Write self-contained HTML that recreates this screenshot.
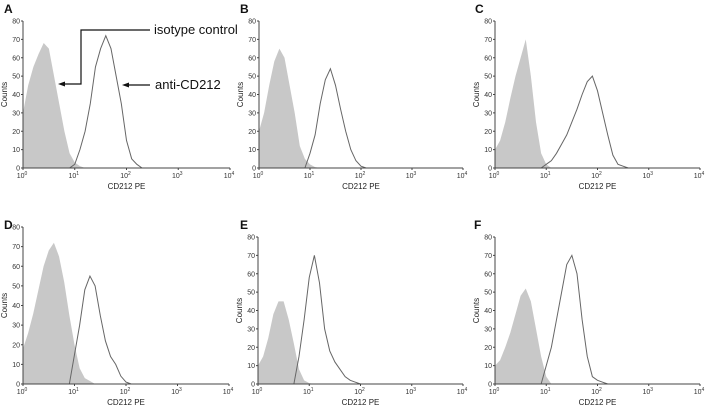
<!DOCTYPE html>
<html><head><meta charset="utf-8"><style>
body{margin:0;background:#fff;}
svg{display:block;font-family:"Liberation Sans",Arial,sans-serif;}
</style></head><body>
<svg id="fig" width="708" height="406" viewBox="0 0 708 406"></svg>
<script>
// Data: counts at log10(CD212 PE) from start, step 0.1 decade
const panelLetters = ["A","B","C","D","E","F"];
const yTicks = [0,10,20,30,40,50,60,70,80];
const xTicks = [0,1,2,3,4];
const isoStart = [0,0,0,0,0,0];
const isoA = [30,45,55,62,68,65,50,35,20,8,3,1,0];
const isoB = [20,30,45,58,65,60,45,30,12,5,2,0.5,0];
const isoC = [10,15,25,38,50,60,70,50,25,8,2,0];
const isoD = [18,26,36,48,60,68,72,65,52,35,20,8,3,1.5,0];
const isoE = [10,15,25,38,45,45,35,22,8,2,0.5,0];
const isoF = [10,13,20,28,38,48,52,45,30,15,4,0];
const antiStart = [0.9,0.9,0.9,0.9,0.7,0.9];
const antiA = [0,2,10,20,35,55,65,72,65,50,35,15,5,2,0];
const antiB = [0,8,18,35,48,54,45,32,20,10,4,1,0];
const antiC = [0,2,4,8,13,18,25,32,40,47,50,42,30,18,7,2,1,0];
const antiD = [0,15,30,48,55,50,35,22,14,10,4,1,0];
const antiE = [0,15,35,58,70,55,30,18,12,8,4,2,1,0];
const antiF = [0,10,20,35,50,65,70,60,35,15,4,2,1,0];
const isoSeries = [isoA,isoB,isoC,isoD,isoE,isoF];
const antiSeries = [antiA,antiB,antiC,antiD,antiE,antiF];

const geom = [
 {x0:23,x4:230,y0:168,y80:21,lx:4,ly:13},
 {x0:259,x4:463,y0:168,y80:21,lx:240,ly:13},
 {x0:495,x4:700,y0:168,y80:21,lx:475,ly:13},
 {x0:23,x4:229,y0:384,y80:227,lx:4,ly:229},
 {x0:258,x4:463,y0:384,y80:237,lx:240,ly:229},
 {x0:495,x4:700,y0:384,y80:237,lx:474,ly:229}
];
const NS="http://www.w3.org/2000/svg";
const svg=document.getElementById('fig');
function mk(tag,attrs,parent){const e=document.createElementNS(NS,tag);for(const k in attrs)e.setAttribute(k,attrs[k]);(parent||svg).appendChild(e);return e;}

geom.forEach((g,i)=>{
  const grp=mk('g',{});
  
  
  const X=v=>g.x0+(g.x4-g.x0)*v/4;
  const Y=v=>g.y0-(g.y0-g.y80)*v/80;
  const iso=isoSeries[i];let pts=[X(isoStart[i])+','+Y(0)];
  iso.forEach((v,k)=>pts.push(X(isoStart[i]+k*0.1)+','+Y(v)));
  pts.push(X(isoStart[i]+(iso.length-1)*0.1)+','+Y(0));
  const p1=mk('polygon',{points:pts.join(' '),fill:'#c8c8c8',stroke:'none'},grp);
  
  
  const an=antiSeries[i];const lp=[];
  an.forEach((v,k)=>lp.push(X(antiStart[i]+k*0.1)+','+Y(v)));
  const p2=mk('polyline',{points:lp.join(' '),fill:'none',stroke:'#666',"stroke-width":1},grp);
  
  
  mk('line',{x1:g.x0,y1:g.y80,x2:g.x0,y2:g.y0,stroke:'#444','stroke-width':1},grp);
  mk('line',{x1:g.x0,y1:g.y0,x2:g.x4,y2:g.y0,stroke:'#444','stroke-width':1},grp);
  yTicks.forEach(t=>{
    mk('line',{x1:g.x0-2,y1:Y(t),x2:g.x0,y2:Y(t),stroke:'#444'},grp);
    const tx=mk('text',{x:g.x0-3,y:Y(t)+2.5,'font-size':7,'text-anchor':'end',fill:'#333'},grp);tx.textContent=t;
  });
  xTicks.forEach(t=>{
    mk('line',{x1:X(t),y1:g.y0,x2:X(t),y2:g.y0+2,stroke:'#444'},grp);
    const tx=mk('text',{x:X(t)-1,y:g.y0+10,'font-size':7,'text-anchor':'middle',fill:'#333'},grp);
    tx.textContent='10';
    const sp=mk('tspan',{dy:-3,'font-size':5},tx);sp.textContent=t;
  });
  const xl=mk('text',{x:(g.x0+g.x4)/2,y:g.y0+21,'font-size':8,'text-anchor':'middle',fill:'#222'},grp);
  xl.textContent='CD212 PE';
  
  
  const cy=(g.y0+g.y80)/2;
  const yl=mk('text',{x:g.x0-16,y:cy,'font-size':8,'text-anchor':'middle',fill:'#222',transform:`rotate(-90 ${g.x0-16} ${cy})`},grp);
  yl.textContent='Counts';
  
  
  const lt=mk('text',{x:g.lx,y:g.ly,'font-size':12,'font-weight':'bold',fill:'#111'},grp);
  lt.textContent=panelLetters[i];
  
  
});
</script>
<svg style="position:absolute;left:0;top:0" width="708" height="406">
 <polyline points="150,30 81,30 81,84 62,84" fill="none" stroke="#111" stroke-width="1.2"/>
 <path d="M58,84 L65,81.5 L65,86.5 Z" fill="#111"/>
 <line x1="150" y1="85" x2="126" y2="85" stroke="#111" stroke-width="1.2"/>
 <path d="M122,85 L129,82.5 L129,87.5 Z" fill="#111"/>
 <text x="154" y="34" font-size="13" fill="#111" font-family="Liberation Sans, sans-serif">isotype control</text>
 <text x="155" y="89" font-size="13" fill="#111" font-family="Liberation Sans, sans-serif">anti-CD212</text>
</svg>
</body></html>
